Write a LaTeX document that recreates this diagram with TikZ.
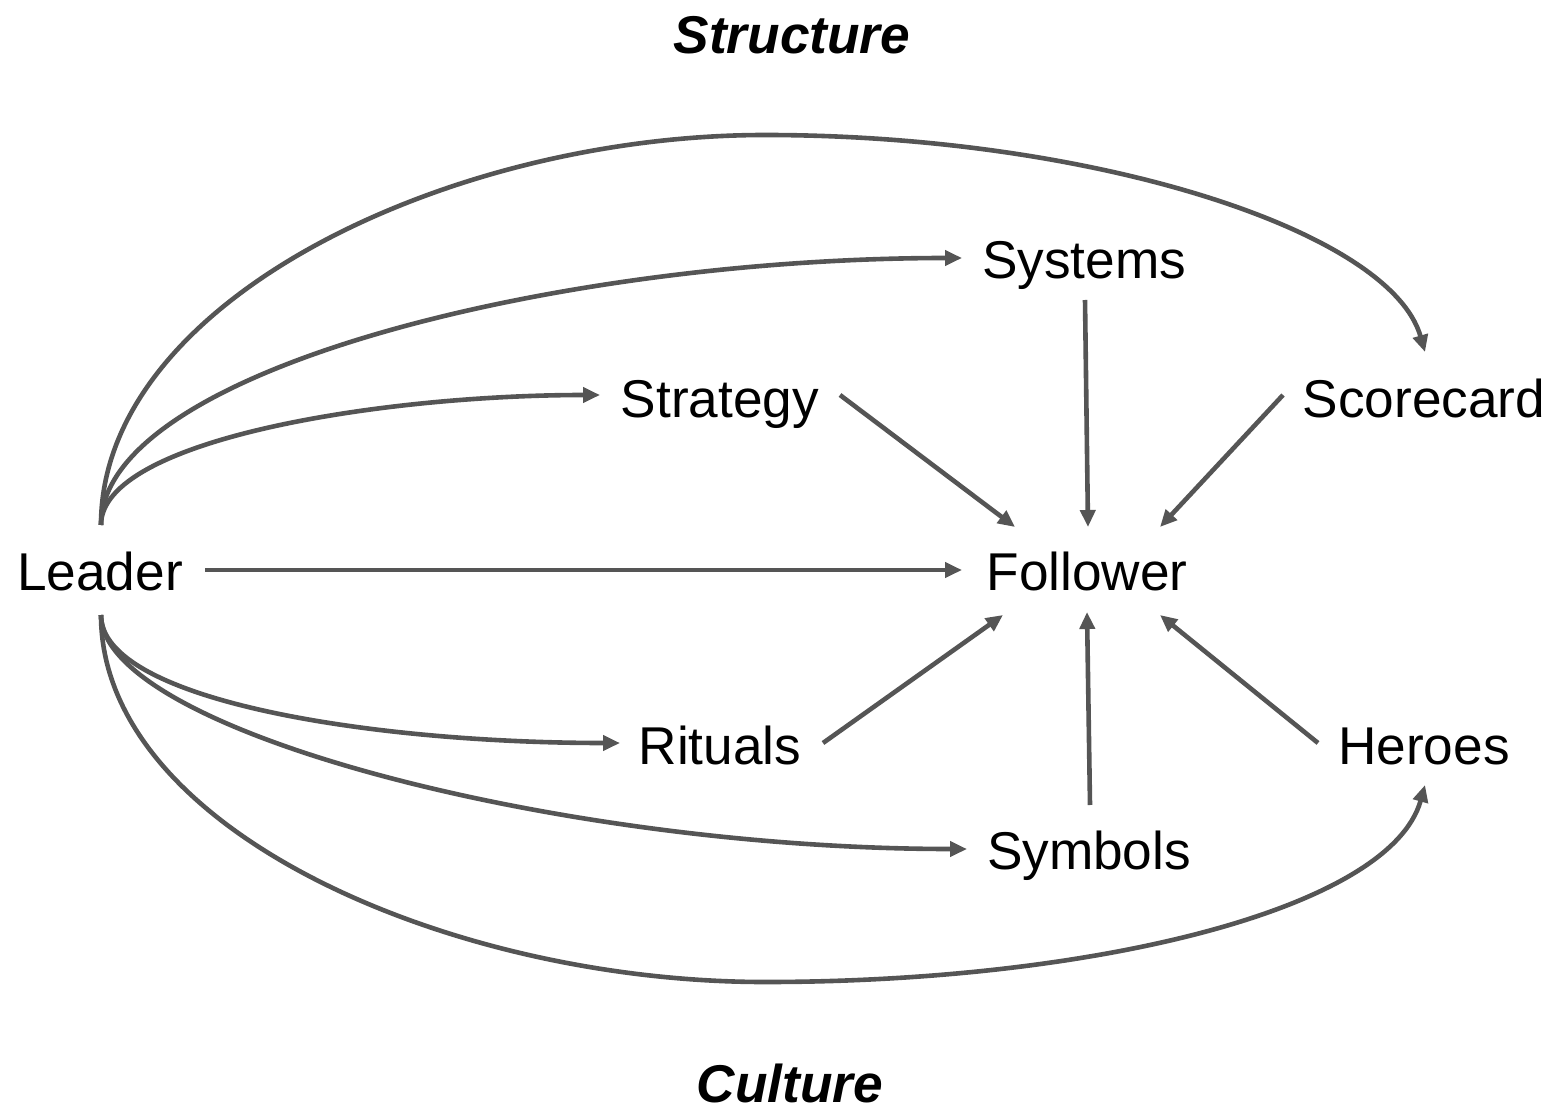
\documentclass[tikz,border=0pt]{standalone}
\usepackage{fontspec}
\setmainfont{Liberation Sans}
\usetikzlibrary{arrows.meta}
\definecolor{lc}{HTML}{555555}
\begin{document}
\begin{tikzpicture}[x=0.5pt,y=-0.5pt,
  lbl/.style={font=\fontsize{26.6}{30}\selectfont, anchor=base, inner sep=0pt},
  ttl/.style={font=\fontsize{26.6}{30}\selectfont\bfseries\itshape, anchor=base, inner sep=0pt},
  arr/.style={draw=lc, line width=2.3pt, -{Triangle[length=8.5pt,width=7.5pt]}}]
\useasboundingbox (0,0) rectangle (1567,1117);
% labels
\node[ttl] (T1) at (792,54) {Structure};
\node[ttl] (T2) at (790,1102) {Culture};
\node[lbl] (L) at (100,590) {Leader};
\node[lbl] (F) at (1087,590) {Follower};
\node[lbl] (Sy) at (1084,279) {Systems};
\node[lbl] (St) at (720,417) {Strategy};
\node[lbl] (Sc) at (1424,417) {Scorecard};
\node[lbl] (R) at (720,764) {Rituals};
\node[lbl] (Sb) at (1089,869) {Symbols};
\node[lbl] (H) at (1424,764) {Heroes};
% connector end points
\coordinate (Ltop) at (101,525);
\coordinate (Lbot) at (101,615);
\coordinate (Lr) at (205,570);
\coordinate (Fl) at (962,570);
\coordinate (SyIn) at (962,258);
\coordinate (StIn) at (600,395);
\coordinate (ScIn) at (1425,352);
\coordinate (RIn) at (620,743);
\coordinate (SbIn) at (967,849);
\coordinate (HIn) at (1425,785);
\coordinate (SyOut) at (1085,300);
\coordinate (StOut) at (840,395);
\coordinate (ScOut) at (1283,395);
\coordinate (ROut) at (823,743);
\coordinate (SbOut) at (1090,805);
\coordinate (HOut) at (1318,743);
\coordinate (FSy) at (1088,527);
\coordinate (FSt) at (1015,527);
\coordinate (FSc) at (1160,527);
\coordinate (FR) at (1003,615);
\coordinate (FSb) at (1087,612);
\coordinate (FH) at (1160,615);
% arrows
\draw[arr] (Lr) -- (Fl);
\draw[arr] (Ltop) .. controls (101,370) and (560,258) .. (SyIn);
\draw[arr] (Ltop) .. controls (101,440) and (380,395) .. (StIn);
\draw[arr] (Ltop) .. controls (101,300) and (450,135) .. (765,135) .. controls (1090,135) and (1390,230) .. (ScIn);
\draw[arr] (Lbot) .. controls (101,700) and (370,743) .. (RIn);
\draw[arr] (Lbot) .. controls (101,730) and (560,849) .. (SbIn);
\draw[arr] (Lbot) .. controls (101,830) and (450,982) .. (765,982) .. controls (1090,982) and (1390,910) .. (HIn);
\draw[arr] (SyOut) -- (FSy);
\draw[arr] (StOut) -- (FSt);
\draw[arr] (ScOut) -- (FSc);
\draw[arr] (ROut) -- (FR);
\draw[arr] (SbOut) -- (FSb);
\draw[arr] (HOut) -- (FH);
\end{tikzpicture}
\end{document}
